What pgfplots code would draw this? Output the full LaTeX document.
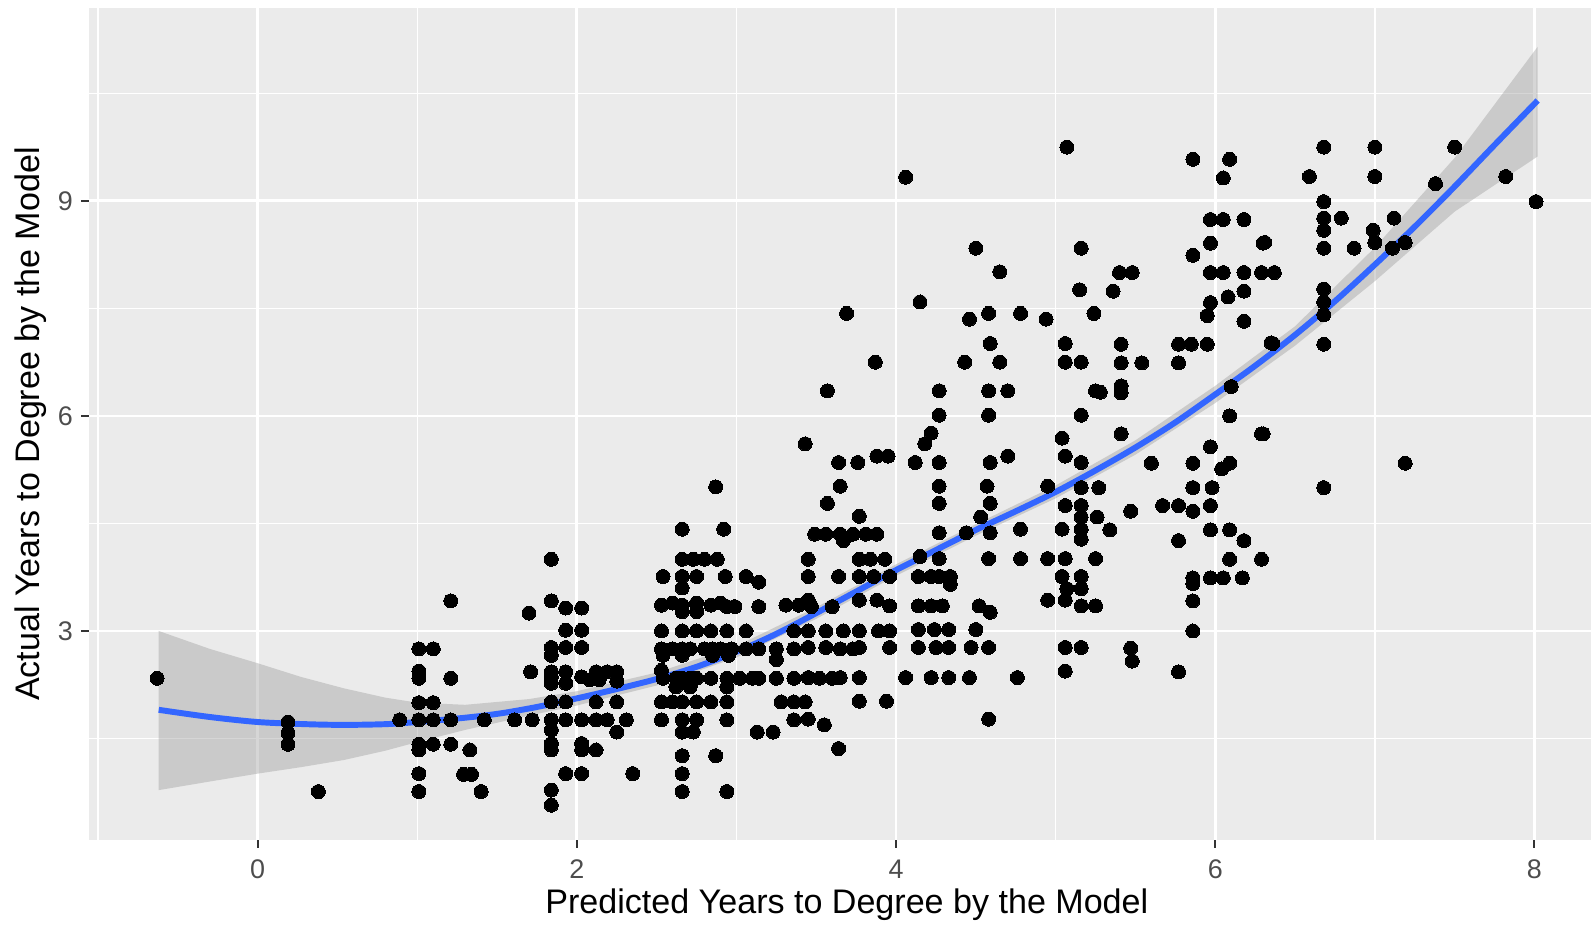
\documentclass[border=0pt]{standalone}
\usepackage{fontspec}
\setmainfont{Liberation Sans}
\usepackage{pgfplots}
\pgfplotsset{compat=1.18}
\definecolor{panel}{HTML}{EBEBEB}
\definecolor{tickcol}{HTML}{333333}
\definecolor{labcol}{HTML}{4D4D4D}
\definecolor{smoothcol}{HTML}{3366FF}
\definecolor{ribboncol}{HTML}{999999}
\begin{document}
\begin{tikzpicture}[x=1cm,y=1cm]
\useasboundingbox (-0.895,-0.855) rectangle (15.106,8.448);
\begin{axis}[
  at={(0,0)}, anchor=south west,
  scale only axis, width=15.243cm, height=8.367cm,
  xmin=-1.057, xmax=8.44, ymin=0.084, ymax=11.69,
  axis background/.style={fill=panel},
  axis line style={draw=none},
  xtick={0,2,4,6,8}, ytick={3,6,9},
  minor xtick={-1,1,3,5,7}, minor ytick={1.5,4.5,7.5,10.5},
  grid=both,
  major grid style={white, line width=0.8pt},
  minor grid style={white, line width=0.4pt},
  tick align=outside,
  xtick pos=left, ytick pos=left,
  major tick length=0.08cm,
  minor tick length=0pt,
  every tick/.style={tickcol, line width=0.55pt},
  /pgf/number format/assume math mode=true,
  tick label style={font=\fontsize{7.7}{9}\selectfont, text=labcol},
  xticklabel style={anchor=base, inner sep=0pt, yshift=-0.306cm},
  yticklabel style={anchor=east, inner sep=0pt, xshift=-0.076cm},
  xlabel={Predicted Years to Degree by the Model},
  ylabel={Actual Years to Degree by the Model},
  xlabel style={at={(axis description cs:0.5,-0.0775)}, anchor=center, font=\fontsize{9.75}{11}\selectfont},
  ylabel style={at={(axis description cs:-0.0387,0.5)}, anchor=center, font=\fontsize{9.75}{11}\selectfont},
]
% data points
\addplot[only marks, mark=*, mark size=2.0pt, mark options={draw=black, fill=black, line width=0pt}] coordinates {
(-0.63,2.34)
(0.19,1.73)(0.19,1.58)(0.19,1.42)
(0.38,0.76)(0.89,1.76)
(1.01,2.75)(1.01,2.44)(1.01,2.34)(1.01,2.0)(1.01,1.76)(1.01,1.42)(1.01,1.34)(1.01,1.01)(1.01,0.76)
(1.10,2.75)(1.10,2.0)(1.10,1.76)(1.10,1.42)
(1.21,3.42)(1.21,2.34)(1.21,1.76)(1.21,1.42)
(1.29,1.0)(1.34,1.0)(1.33,1.34)(1.40,0.76)(1.42,1.76)(1.61,1.76)
(1.70,3.25)(1.71,2.43)(1.72,1.76)
(1.84,4.0)(1.84,3.42)(1.84,2.77)(1.84,2.66)(1.84,2.43)(1.84,2.36)(1.84,2.27)(1.84,2.01)(1.84,1.76)(1.84,1.62)(1.84,1.43)(1.84,1.34)(1.84,0.78)(1.84,0.57)
(1.93,3.32)(1.93,3.01)(1.93,2.77)(1.93,2.43)(1.93,2.27)(1.93,2.01)(1.93,1.76)(1.93,1.01)
(2.03,3.32)(2.03,3.01)(2.03,2.77)(2.03,2.36)(2.03,1.76)(2.03,1.43)(2.03,1.34)(2.03,1.01)
(2.08,2.32)(2.14,2.32)(2.12,2.43)(2.19,2.43)(2.25,2.43)(2.12,2.01)(2.25,2.01)
(2.12,1.76)(2.19,1.76)(2.31,1.76)(2.25,2.30)(2.25,1.59)(2.12,1.34)(2.35,1.01)
(2.87,5.01)(2.66,4.42)(2.92,4.42)
(2.66,4.0)(2.73,4.0)(2.80,4.0)(2.88,4.0)
(2.54,3.76)(2.66,3.76)(2.75,3.76)(2.93,3.76)(3.06,3.76)(3.14,3.68)(2.66,3.6)
(2.53,3.36)(2.60,3.39)(2.66,3.36)(2.75,3.39)(2.84,3.36)(2.90,3.39)(2.94,3.34)(2.99,3.34)(3.14,3.34)
(2.75,3.27)(2.66,3.27)
(2.53,3.0)(2.66,3.0)(2.75,3.0)(2.84,3.0)(2.94,3.0)(3.06,3.0)
(2.53,2.75)(2.60,2.75)(2.66,2.75)(2.71,2.75)(2.80,2.75)(2.85,2.75)(2.90,2.75)(2.97,2.75)(3.06,2.75)(3.14,2.75)(3.25,2.75)
(2.54,2.66)(2.66,2.66)(2.85,2.66)(2.95,2.66)(3.25,2.60)(2.53,2.45)
(2.54,2.34)(2.62,2.34)(2.66,2.34)(2.71,2.34)(2.75,2.34)(2.84,2.34)(2.94,2.34)(3.02,2.34)(3.10,2.34)(3.14,2.34)(3.25,2.34)
(2.62,2.22)(2.71,2.22)(2.94,2.22)
(2.53,2.01)(2.60,2.01)(2.66,2.01)(2.75,2.01)(2.84,2.01)(2.94,2.01)
(2.53,1.76)(2.66,1.76)(2.75,1.76)(2.94,1.76)
(2.66,1.59)(2.73,1.59)(3.13,1.59)(3.23,1.59)
(2.66,1.26)(2.87,1.26)(2.66,1.01)(2.66,0.76)(2.94,0.76)
(3.64,5.35)(3.76,5.35)(3.88,5.44)(3.95,5.44)(3.65,5.02)(3.57,4.78)(3.77,4.6)
(3.49,4.35)(3.56,4.35)(3.65,4.35)(3.73,4.35)(3.81,4.35)(3.88,4.35)(3.67,4.26)
(3.45,4.0)(3.77,4.0)(3.84,4.0)(3.93,4.0)
(3.45,3.76)(3.64,3.76)(3.77,3.76)(3.86,3.76)(3.96,3.76)
(3.31,3.36)(3.39,3.36)(3.45,3.43)(3.47,3.34)(3.60,3.34)(3.77,3.43)(3.88,3.43)(3.96,3.35)
(3.36,3.0)(3.45,3.0)(3.56,3.0)(3.67,3.0)(3.77,3.0)(3.89,3.0)(3.96,3.0)
(3.36,2.75)(3.45,2.77)(3.56,2.77)(3.65,2.75)(3.73,2.75)(3.77,2.77)(3.96,2.77)
(3.36,2.34)(3.45,2.35)(3.52,2.34)(3.60,2.34)(3.65,2.35)(3.77,2.35)
(3.28,2.01)(3.36,2.01)(3.43,2.01)(3.77,2.02)(3.94,2.02)
(3.36,1.76)(3.45,1.77)(3.55,1.69)(3.64,1.36)
(3.43,5.61)(3.57,6.35)(3.69,7.43)(3.87,6.75)
(4.06,9.33)(4.15,7.59)
(4.46,7.35)(4.58,7.43)(4.78,7.43)(4.94,7.35)(5.24,7.43)
(4.50,8.34)(4.65,8.01)(5.16,8.34)(5.15,7.76)
(4.59,7.01)(5.06,7.01)
(4.43,6.75)(4.65,6.75)(5.06,6.75)(5.16,6.75)
(4.27,6.35)(4.58,6.35)(4.70,6.35)(5.25,6.35)
(4.27,6.01)(4.58,6.01)(5.16,6.01)
(4.22,5.76)(4.18,5.61)
(4.12,5.35)(4.27,5.35)(4.59,5.35)(4.70,5.44)(5.16,5.35)(5.06,5.44)(5.04,5.69)
(4.27,5.02)(4.57,5.02)(4.95,5.02)(5.16,5.0)(5.27,5.0)
(4.27,4.78)(4.59,4.78)(5.06,4.75)(5.16,4.75)(5.16,4.59)(5.26,4.59)(5.47,4.67)
(4.27,4.37)(4.44,4.37)(4.53,4.59)(4.59,4.37)(4.78,4.42)(5.04,4.42)(5.16,4.42)(5.16,4.28)(5.34,4.41)
(4.15,4.04)(4.27,4.01)(4.58,4.01)(4.78,4.01)(4.95,4.01)(5.06,4.01)(5.25,4.01)
(4.14,3.76)(4.22,3.76)(4.27,3.76)(4.34,3.76)(4.34,3.65)(5.04,3.76)(5.16,3.76)(5.07,3.59)(5.16,3.59)
(4.14,3.35)(4.22,3.35)(4.29,3.35)(4.52,3.35)(4.59,3.26)(4.95,3.43)(5.06,3.43)(5.16,3.35)(5.25,3.35)
(4.14,3.02)(4.24,3.02)(4.33,3.02)(4.50,3.02)
(4.14,2.77)(4.25,2.77)(4.33,2.77)(4.47,2.77)(4.58,2.77)(5.06,2.77)(5.16,2.77)
(4.06,2.35)(4.22,2.35)(4.33,2.35)(4.46,2.35)(4.76,2.35)(5.06,2.44)(4.58,1.77)
(5.07,9.75)(5.86,9.58)(6.09,9.58)(6.05,9.32)
(5.97,8.74)(6.05,8.74)(6.18,8.74)
(5.86,8.24)(5.97,8.41)(6.30,8.41)
(5.40,8.0)(5.48,8.0)(5.97,8.0)(6.05,8.0)(6.18,8.0)(6.29,8.0)(6.37,8.0)
(5.36,7.74)(5.97,7.58)(6.08,7.66)(6.18,7.74)(5.95,7.40)(6.18,7.32)
(5.41,7.0)(5.77,7.0)(5.85,7.0)(5.95,7.0)
(5.41,6.74)(5.54,6.74)(5.77,6.74)
(5.28,6.33)(5.41,6.42)(5.41,6.32)(6.35,7.02)(6.10,6.41)(6.09,6.0)
(5.41,5.75)(6.29,5.75)(5.97,5.57)
(5.60,5.34)(5.86,5.34)(6.04,5.26)(6.09,5.34)
(5.86,5.0)(5.98,5.0)
(5.67,4.75)(5.77,4.75)(5.86,4.67)(5.97,4.75)
(5.77,4.26)(5.97,4.41)(6.09,4.41)(6.18,4.26)
(6.09,4.0)(6.29,4.0)
(5.86,3.74)(5.86,3.66)(5.97,3.74)(6.05,3.74)(6.17,3.74)
(5.86,3.42)(5.86,3.0)(5.47,2.76)(5.48,2.58)(5.77,2.43)
(6.68,9.75)(7.0,9.75)(7.5,9.75)
(6.59,9.34)(7.0,9.34)(7.38,9.24)(7.82,9.34)(8.01,8.99)(6.68,8.99)
(6.68,8.76)(6.79,8.76)(7.12,8.76)(6.68,8.59)(6.99,8.59)
(6.31,8.42)(6.68,8.34)(6.87,8.34)(7.0,8.42)(7.11,8.34)(7.19,8.42)
(6.68,7.77)(6.68,7.59)(6.68,7.41)(6.36,7.01)(6.68,7.0)
(6.30,5.75)(7.19,5.34)(6.68,5.0)
};
% confidence ribbon
\addplot[fill=ribboncol, fill opacity=0.4, draw=none] coordinates {
(-0.62,3.00)(-0.3,2.75)(0.0,2.55)(0.27,2.36)(0.54,2.20)(0.8,2.07)(1.0,2.00)(1.3,1.97)(1.7,2.05)(2.0,2.16)(2.5,2.42)(3.0,2.79)(3.5,3.33)(4.0,3.93)(4.5,4.49)(5.0,5.03)(5.5,5.66)(6.0,6.42)(6.5,7.25)(7.0,8.35)(7.5,9.60)(8.02,11.15)
(8.02,9.62)(7.5,8.85)(7.0,7.88)(6.5,6.98)(6.0,6.18)(5.5,5.46)(5.0,4.85)(4.5,4.33)(4.0,3.77)(3.5,3.17)(3.0,2.63)(2.5,2.24)(2.0,1.96)(1.7,1.82)(1.3,1.62)(1.0,1.45)(0.8,1.33)(0.54,1.20)(0.27,1.10)(0.0,1.01)(-0.3,0.90)(-0.62,0.78)
} -- cycle;
% smooth line
\addplot[smooth, color=smoothcol, line width=1.7pt] coordinates {
(-0.62,1.90)(-0.3,1.80)(0.0,1.73)(0.3,1.70)(0.54,1.69)(0.8,1.70)(1.0,1.73)(1.3,1.79)(1.52,1.85)(1.75,1.94)(2.0,2.06)(2.25,2.19)(2.5,2.33)(2.75,2.50)(3.0,2.71)(3.25,2.96)(3.5,3.25)(3.75,3.55)(4.0,3.85)(4.25,4.13)(4.5,4.41)(4.75,4.67)(5.0,4.94)(5.25,5.24)(5.5,5.56)(5.75,5.91)(6.0,6.30)(6.25,6.70)(6.5,7.13)(6.75,7.60)(7.0,8.11)(7.25,8.64)(7.5,9.20)(7.75,9.78)(8.02,10.40)
};
\end{axis}
\end{tikzpicture}
\end{document}
